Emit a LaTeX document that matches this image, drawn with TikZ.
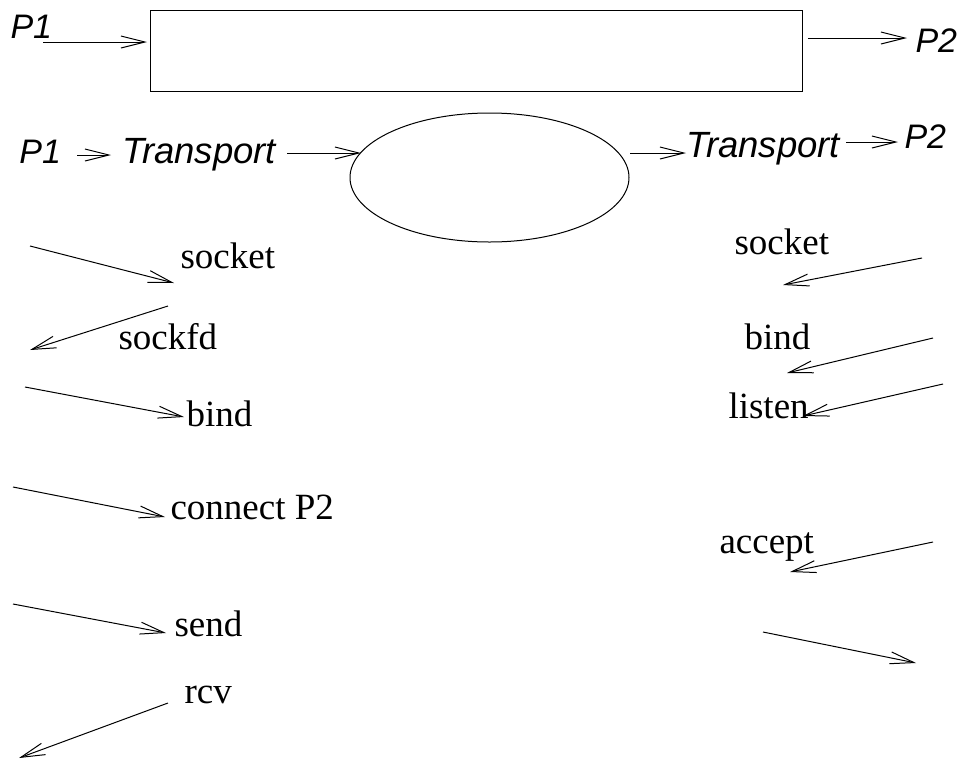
\documentclass[tikz,border=0pt]{standalone}
\usepackage{fontspec}
\setmainfont{Liberation Serif}
\newfontfamily\hvfont{Liberation Sans}
\usetikzlibrary{arrows.meta,shapes.geometric}
\begin{document}
\begin{tikzpicture}[x=1pt,y=-1pt,
  line width=1pt,
  arr/.style={-{Straight Barb[length=24pt,width=12pt,line width=1pt]}},
  hv/.style={font=\hvfont\itshape\fontsize{34}{40}\selectfont,inner sep=0pt,anchor=base west},
  hvt/.style={font=\hvfont\itshape\fontsize{36.5}{42}\selectfont,inner sep=0pt,anchor=base west},
  tm/.style={font=\fontsize{37}{42}\selectfont,inner sep=0pt,anchor=base west}]
\useasboundingbox (0,0) rectangle (969,761);
% top row
\node[draw,minimum width=652pt,minimum height=81pt,inner sep=0pt] (box) at (476,50.5) {};
\node[hv] (p1a) at (10,38) {P1};
\node[hv] (p2a) at (915,52) {P2};
\coordinate (a1s) at (43,42); \coordinate (a1e) at (147,42);
\coordinate (a2s) at (808,38); \coordinate (a2e) at (907,38);
\draw[arr] (a1s) -- (a1e);
\draw[arr] (a2s) -- (a2e);
% second row
\node[draw,ellipse,minimum width=279pt,minimum height=129pt,inner sep=0pt] (ell) at (489.5,177.5) {};
\node[hv] (p1b) at (19,163) {P1};
\node[hvt] (trl) at (122,163) {Transport};
\node[hvt] (trr) at (686,157) {Transport};
\node[hv] (p2b) at (904,148) {P2};
\coordinate (b1s) at (77,155); \coordinate (b1e) at (111,155);
\coordinate (b2s) at (287,153); \coordinate (b2e) at (361,153);
\coordinate (b3s) at (630,153); \coordinate (b3e) at (686,153);
\coordinate (b4s) at (846,142); \coordinate (b4e) at (898,142);
\draw[arr] (b1s) -- (b1e);
\draw[arr] (b2s) -- (b2e);
\draw[arr] (b3s) -- (b3e);
\draw[arr] (b4s) -- (b4e);
% left column
\node[tm] (lsock) at (180,268) {socket};
\node[tm] (lfd) at (118,349) {sockfd};
\node[tm] (lbind) at (186,426) {bind};
\node[tm] (lconn) at (170,519) {connect P2};
\node[tm] (lsend) at (174,636) {send};
\node[tm] (lrcv) at (184,703) {rcv};
\coordinate (l1s) at (30,246); \coordinate (l1e) at (174,283);
\coordinate (l2s) at (168,306); \coordinate (l2e) at (30,350);
\coordinate (l3s) at (25,387); \coordinate (l3e) at (184,417);
\coordinate (l4s) at (13,487); \coordinate (l4e) at (165,517);
\coordinate (l5s) at (13,604); \coordinate (l5e) at (166,633);
\coordinate (l6s) at (168,703); \coordinate (l6e) at (19,758);
\draw[arr] (l1s) -- (l1e);
\draw[arr] (l2s) -- (l2e);
\draw[arr] (l3s) -- (l3e);
\draw[arr] (l4s) -- (l4e);
\draw[arr] (l5s) -- (l5e);
\draw[arr] (l6s) -- (l6e);
% right column
\node[tm] (rsock) at (734,254) {socket};
\node[tm] (rbind) at (744,349) {bind};
\node[tm] (rlist) at (728,418) {listen};
\node[tm] (racc) at (719,553) {accept};
\coordinate (r1s) at (922,258); \coordinate (r1e) at (783,285);
\coordinate (r2s) at (933,338); \coordinate (r2e) at (787,373);
\coordinate (r3s) at (943,384); \coordinate (r3e) at (803,416);
\coordinate (r4s) at (933,542); \coordinate (r4e) at (790,572);
\coordinate (r5s) at (763,632); \coordinate (r5e) at (916,663);
\draw[arr] (r1s) -- (r1e);
\draw[arr] (r2s) -- (r2e);
\draw[arr] (r3s) -- (r3e);
\draw[arr] (r4s) -- (r4e);
\draw[arr] (r5s) -- (r5e);
\end{tikzpicture}
\end{document}
